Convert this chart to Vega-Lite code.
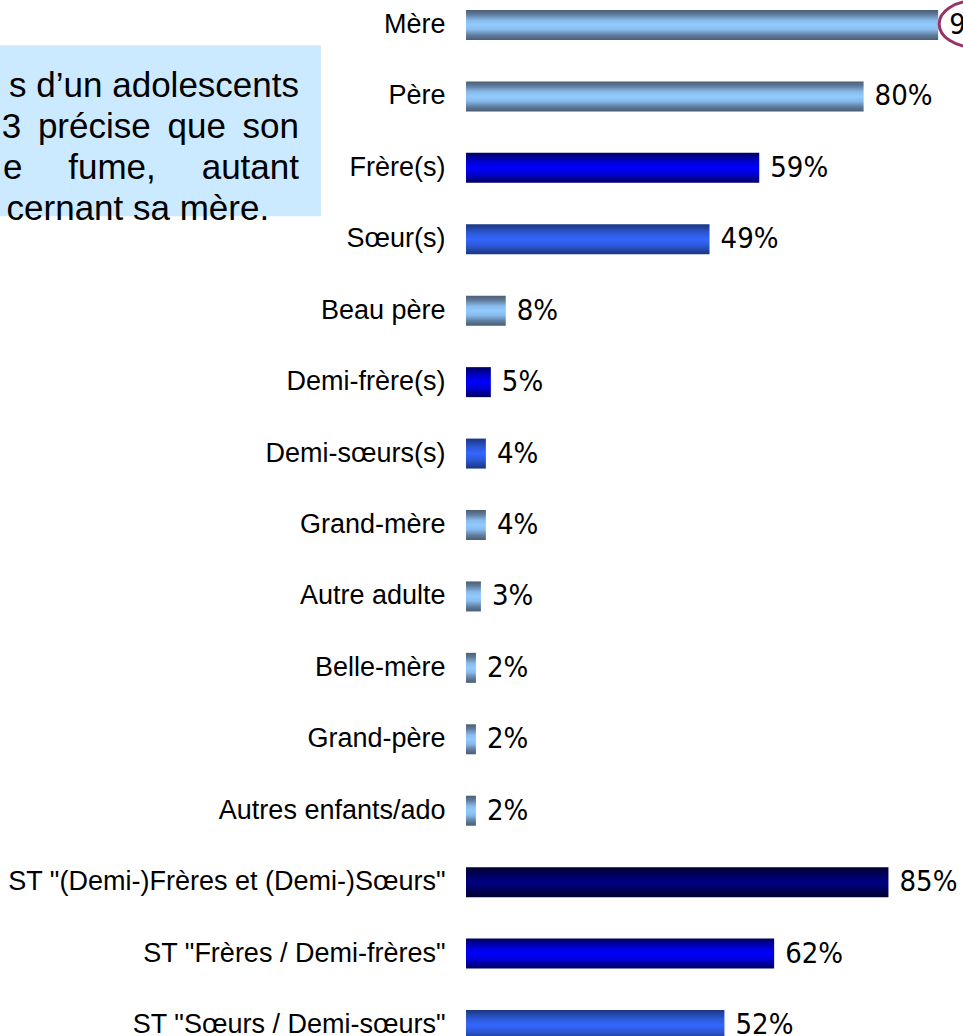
{
  "$schema": "https://vega.github.io/schema/vega-lite/v6.json",
  "width": 497,
  "height": 1036,
  "autosize": {"type": "none"},
  "padding": {"left": 466, "top": 0, "right": 0, "bottom": 0},
  "background": "white",
  "config": {
    "view": {"stroke": null},
    "axis": {"grid": false}
  },
  "datasets": {
    "bars": [
      {"cat": "Mère", "pct": 0.95, "grp": "steel"},
      {"cat": "Père", "pct": 0.80, "grp": "steel"},
      {"cat": "Frère(s)", "pct": 0.59, "grp": "blue"},
      {"cat": "Sœur(s)", "pct": 0.49, "grp": "royal"},
      {"cat": "Beau père", "pct": 0.08, "grp": "steel"},
      {"cat": "Demi-frère(s)", "pct": 0.05, "grp": "blue"},
      {"cat": "Demi-sœurs(s)", "pct": 0.04, "grp": "royal"},
      {"cat": "Grand-mère", "pct": 0.04, "grp": "steel"},
      {"cat": "Autre adulte", "pct": 0.03, "grp": "steel"},
      {"cat": "Belle-mère", "pct": 0.02, "grp": "steel"},
      {"cat": "Grand-père", "pct": 0.02, "grp": "steel"},
      {"cat": "Autres enfants/ado", "pct": 0.02, "grp": "steel"},
      {"cat": "ST \"(Demi-)Frères et (Demi-)Sœurs\"", "pct": 0.85, "grp": "navy"},
      {"cat": "ST \"Frères / Demi-frères\"", "pct": 0.62, "grp": "blue"},
      {"cat": "ST \"Sœurs / Demi-sœurs\"", "pct": 0.52, "grp": "royal"}
    ]
  },
  "data": {"name": "bars"},
  "encoding": {
    "y": {
      "field": "cat",
      "type": "nominal",
      "sort": null,
      "scale": {
        "domain": ["Mère", "Père", "Frère(s)", "Sœur(s)", "Beau père", "Demi-frère(s)", "Demi-sœurs(s)", "Grand-mère", "Autre adulte", "Belle-mère", "Grand-père", "Autres enfants/ado", "ST \"(Demi-)Frères et (Demi-)Sœurs\"", "ST \"Frères / Demi-frères\"", "ST \"Sœurs / Demi-sœurs\""],
        "range": [0, 1050],
        "paddingInner": 0.58,
        "paddingOuter": 0.14
      },
      "axis": {
        "title": null,
        "ticks": false,
        "domain": false,
        "labelFont": "Liberation Sans",
        "labelFontSize": 27,
        "labelColor": "#000000",
        "labelPadding": 21,
        "labelLimit": 0
      }
    },
    "x": {
      "field": "pct",
      "type": "quantitative",
      "scale": {"domain": [0, 1], "nice": false, "zero": true},
      "axis": null
    }
  },
  "layer": [
    {
      "transform": [{"filter": "datum.cat === 'Frère(s)'"}],
      "mark": {"type": "rect", "color": "#cceaff", "height": 171, "yOffset": -37, "clip": false},
      "encoding": {
        "x": {"datum": -1.4, "type": "quantitative"},
        "x2": {"datum": -0.292}
      }
    },
    {
      "transform": [{"filter": "datum.cat === 'Frère(s)'"}],
      "mark": {"type": "text", "text": ["s d’un adolescents", "3 \u2009précise \u2009que \u2009son", "e\u00a0\u00a0\u00a0\u00a0\u2009fume,\u00a0\u00a0\u00a0\u00a0\u2009autant"], "align": "right", "baseline": "middle", "font": "Liberation Sans", "fontSize": 35, "lineHeight": 41, "color": "#000000", "dy": -82, "clip": false},
      "encoding": {
        "x": {"datum": -0.336, "type": "quantitative"}
      }
    },
    {
      "transform": [{"filter": "datum.cat === 'Frère(s)'"}],
      "mark": {"type": "text", "text": "cernant sa mère.", "align": "right", "baseline": "middle", "font": "Liberation Sans", "fontSize": 35, "color": "#000000", "dy": 41, "clip": false},
      "encoding": {
        "x": {"datum": -0.396, "type": "quantitative"}
      }
    },
    {
      "transform": [{"filter": "datum.grp === 'steel'"}],
      "mark": {"type": "bar", "color": {"gradient": "linear", "x1": 0, "y1": 0, "x2": 0, "y2": 1, "stops": [
        {"offset": 0, "color": "#4a5d75"},
        {"offset": 0.15, "color": "#5f7b9b"},
        {"offset": 0.35, "color": "#88bcee"},
        {"offset": 0.5, "color": "#93c9fd"},
        {"offset": 0.65, "color": "#88bcee"},
        {"offset": 0.85, "color": "#5f7b9b"},
        {"offset": 1, "color": "#4a5d75"}
      ]}}
    },
    {
      "transform": [{"filter": "datum.grp === 'blue'"}],
      "mark": {"type": "bar", "color": {"gradient": "linear", "x1": 0, "y1": 0, "x2": 0, "y2": 1, "stops": [
        {"offset": 0, "color": "#000060"},
        {"offset": 0.3, "color": "#0000d4"},
        {"offset": 0.5, "color": "#0000ff"},
        {"offset": 0.7, "color": "#0000d4"},
        {"offset": 1, "color": "#000060"}
      ]}}
    },
    {
      "transform": [{"filter": "datum.grp === 'royal'"}],
      "mark": {"type": "bar", "color": {"gradient": "linear", "x1": 0, "y1": 0, "x2": 0, "y2": 1, "stops": [
        {"offset": 0, "color": "#1a3580"},
        {"offset": 0.3, "color": "#2d5ad8"},
        {"offset": 0.5, "color": "#3366ff"},
        {"offset": 0.7, "color": "#2d5ad8"},
        {"offset": 1, "color": "#1a3580"}
      ]}}
    },
    {
      "transform": [{"filter": "datum.grp === 'navy'"}],
      "mark": {"type": "bar", "color": {"gradient": "linear", "x1": 0, "y1": 0, "x2": 0, "y2": 1, "stops": [
        {"offset": 0, "color": "#000030"},
        {"offset": 0.5, "color": "#000085"},
        {"offset": 1, "color": "#000030"}
      ]}}
    },
    {
      "mark": {"type": "text", "align": "left", "baseline": "middle", "dx": 11, "font": "DejaVu Sans Condensed", "fontSize": 29, "color": "#000000"},
      "encoding": {
        "text": {"field": "pct", "type": "quantitative", "format": ".0%"}
      }
    },
    {
      "transform": [{"filter": "datum.cat === 'Mère'"}],
      "mark": {"type": "point", "shape": "M-1,0A1,0.66,0,1,1,1,0A1,0.66,0,1,1,-1,0Z", "size": 4900, "filled": false, "stroke": "#993366", "strokeWidth": 3, "opacity": 1, "xOffset": 36, "yOffset": -1}
    }
  ]
}
